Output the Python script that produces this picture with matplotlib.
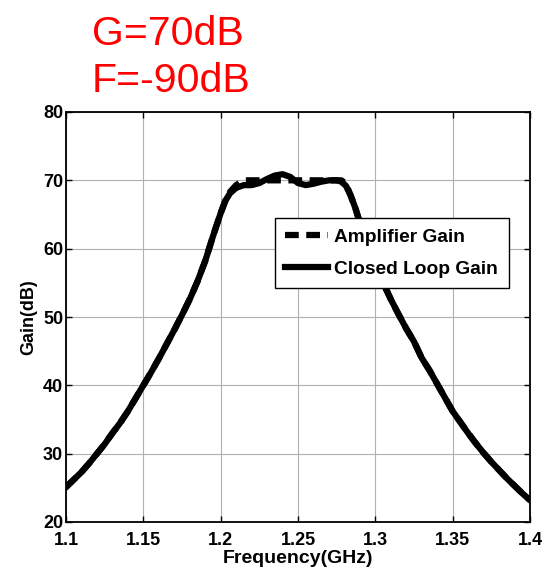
import matplotlib.pyplot as plt
import numpy as np

plt.rcParams['font.family'] = ['Liberation Sans', 'DejaVu Sans']

# 频率 (GHz) 与增益 (dB)
freq = [1.100, 1.105, 1.110, 1.115, 1.120, 1.125, 1.130, 1.135, 1.140, 1.145,
        1.150, 1.155, 1.160, 1.165, 1.170, 1.175, 1.180, 1.185, 1.190, 1.195,
        1.200, 1.203, 1.206, 1.210, 1.215, 1.220, 1.225, 1.230, 1.235, 1.240,
        1.245, 1.250, 1.255, 1.260, 1.265, 1.270, 1.275, 1.278, 1.281, 1.284,
        1.287, 1.290, 1.295, 1.300, 1.305, 1.310, 1.315, 1.320, 1.325, 1.330,
        1.335, 1.340, 1.345, 1.350, 1.355, 1.360, 1.365, 1.370, 1.375, 1.380,
        1.385, 1.390, 1.395, 1.400]

closed_gain = [25.1, 26.2, 27.3, 28.6, 30.0, 31.4, 33.0, 34.5, 36.2, 38.1,
               40.0, 41.9, 43.9, 46.0, 48.1, 50.3, 52.6, 55.2, 58.2, 61.8,
               65.2, 67.0, 68.1, 68.9, 69.3, 69.3, 69.6, 70.2, 70.7, 70.9,
               70.5, 69.6, 69.3, 69.5, 69.8, 70.0, 70.0, 69.8, 69.2, 67.8,
               66.0, 63.8, 60.5, 57.6, 55.0, 52.6, 50.4, 48.3, 46.4, 44.0,
               42.2, 40.2, 38.2, 36.2, 34.6, 33.0, 31.5, 30.1, 28.8, 27.6,
               26.4, 25.3, 24.2, 23.2]

amp_gain = [25.1, 26.2, 27.3, 28.6, 30.0, 31.4, 33.0, 34.5, 36.2, 38.1,
            40.0, 41.9, 43.9, 46.0, 48.1, 50.3, 52.6, 55.2, 58.2, 61.8,
            65.2, 67.0, 68.3, 69.3, 70.0, 70.0, 70.0, 70.0, 70.0, 70.0,
            70.0, 70.0, 70.0, 70.0, 70.0, 70.0, 70.0, 70.0, 69.5, 67.8,
            66.0, 63.8, 60.5, 57.6, 55.0, 52.6, 50.4, 48.3, 46.4, 44.0,
            42.2, 40.2, 38.2, 36.2, 34.6, 33.0, 31.5, 30.1, 28.8, 27.6,
            26.4, 25.3, 24.2, 23.2]

x_ticks = [1.1, 1.15, 1.2, 1.25, 1.3, 1.35, 1.4]
x_labels = ['1.1', '1.15', '1.2', '1.25', '1.3', '1.35', '1.4']
y_ticks = [20, 30, 40, 50, 60, 70, 80]

fig = plt.figure(figsize=(5.47, 5.73), dpi=100)
ax = fig.add_axes([66 / 547, 1 - 522 / 573, 464 / 547, 410 / 573])

ax.plot(freq, amp_gain, color='black', lw=4.5, ls=(0, (2.2, 1.2)),
        label='Amplifier Gain')
ax.plot(freq, closed_gain, color='black', lw=4.5, label='Closed Loop Gain')

ax.set_xlim(1.1, 1.4)
ax.set_ylim(20, 80)
ax.set_xticks(x_ticks)
ax.set_xticklabels(x_labels)
ax.set_yticks(y_ticks)
ax.grid(True, color='#b0b0b0', lw=0.8)
ax.tick_params(direction='in', top=True, right=True, length=4, width=1,
               labelsize=13, pad=2)
ax.tick_params(axis='x', pad=7)
for lab in ax.get_xticklabels() + ax.get_yticklabels():
    lab.set_fontweight('bold')
for s in ax.spines.values():
    s.set_linewidth(1.3)

ax.set_xlabel('Frequency(GHz)', fontsize=14, fontweight='bold', labelpad=1)
ax.set_ylabel('Gain(dB)', fontsize=13, fontweight='bold', labelpad=4)

leg = ax.legend(loc='upper left', bbox_to_anchor=(0.45, 0.742),
                fancybox=False, framealpha=1, edgecolor='black',
                prop={'weight': 'bold', 'size': 13.8}, handlelength=2.2,
                handletextpad=0.35, borderpad=0.55, labelspacing=0.75,
                borderaxespad=0)
leg.get_frame().set_linewidth(1.0)

fig.text(92 / 547, 1 - 45 / 573, 'G=70dB', color='red', fontsize=29.5)
fig.text(92 / 547, 1 - 92 / 573, 'F=-90dB', color='red', fontsize=29.5)

fig.savefig('out.png', dpi=100)
